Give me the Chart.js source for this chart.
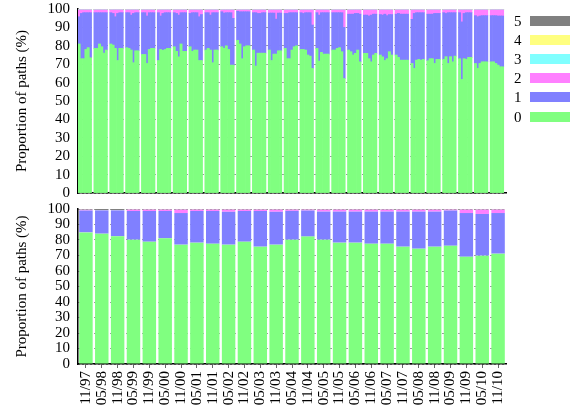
<!DOCTYPE html>
<html>
<head>
<meta charset="utf-8">
<script src="https://cdn.jsdelivr.net/npm/chart.js@4.4.1/dist/chart.umd.min.js"></script>
<style>
    body { margin: 0; background: #fff; }
    #wrap { position: relative; width: 580px; height: 414px; font-family: "Liberation Serif", "Times New Roman", serif; }
    #topBox { position: absolute; left: 0; top: 0; width: 580px; height: 200px; }
    #bottomBox { position: absolute; left: 0; top: 200px; width: 580px; height: 214px; }
    .key { position: absolute; left: 514px; width: 62px; height: 19px; }
    .key span { position: absolute; left: 0; top: 0; font-size: 15px; line-height: 19px; color: #000; }
    .key i { position: absolute; left: 16px; top: 4px; width: 40px; height: 10px; }
</style>
</head>
<body>
<div id="wrap">
    <div id="topBox"><canvas id="topChart"></canvas></div>
    <div id="bottomBox"><canvas id="bottomChart"></canvas></div>
    <div id="legendBox"></div>
</div>
<script>
// half-year periods (x tick labels of the lower panel)
const periods = ['11/97', '05/98', '11/98', '05/99', '11/99', '05/00', '11/00', '05/01', '11/01',
    '05/02', '11/02', '05/03', '11/03', '05/04', '11/04', '05/05', '11/05', '05/06', '11/06',
    '05/07', '11/07', '05/08', '11/08', '05/09', '11/09', '05/10', '11/10'];
const keys = ['0', '1', '2', '3', '4', '5'];
const keyColors = ['#80ff80', '#8080ff', '#ff80ff', '#80ffff', '#ffff80', '#808080'];
const yTicks = [0, 10, 20, 30, 40, 50, 60, 70, 80, 90, 100];
const MONTHS_PER_PERIOD = 6;

// upper panel: monthly shares (%), six months per period
const topZero = [
    81, 73, 73, 78, 79, 73.5,
    78.6, 78.6, 81, 79.5, 76, 77.7,
    81, 80.4, 78.6, 72, 78.6, 78.6,
    79, 78.6, 77.7, 70.8, 77.3, 77.3,
    75.3, 75.3, 70.4, 78, 78.6, 78.6,
    72, 78, 77.5, 78, 78.6, 78.6,
    79.5, 77, 74, 81, 77, 77,
    79.5, 77, 77.7, 77.7, 72, 72,
    77.7, 78.6, 77.7, 70.8, 77.7, 77.7,
    79.5, 78.6, 80, 78, 69.5, 69.5,
    83, 81, 73, 79.5, 80, 80,
    77.7, 69, 76, 76, 76, 76,
    77.7, 72, 75.5, 75.5, 77.3, 77.3,
    78.6, 73, 73, 77.7, 79.5, 80,
    78, 78, 77.7, 75, 74.4, 67.7,
    78.6, 71.7, 76.4, 75.5, 75.5, 75.5,
    77.7, 77.7, 78.6, 79, 76.8, 62.2,
    77.7, 76.8, 75, 75.9, 77.7, 71.3,
    75.9, 75.9, 73, 71.3, 75, 75.9,
    75, 74, 72, 73, 76.8, 75,
    75, 73.7, 72.2, 72.2, 72.2, 72.2,
    70.4, 67.7, 72.2, 72.6, 72.2, 72.6,
    71.9, 73, 73, 70.4, 72.6, 72.6,
    72.6, 74.1, 70.4, 74.1, 71.3, 74.4,
    73, 61.7, 73, 72.6, 73.7, 73.7,
    70.4, 67.7, 70.4, 71.3, 71.3, 71.3,
    71.3, 71.3, 70.4, 69.5, 68.6, 68.6
];
const topOne = [
    14.8, 24.6, 25, 20, 19, 24.5,
    19.4, 19.4, 17, 18.5, 22, 20.3,
    17, 17.2, 17.2, 25.6, 19.4, 19.4,
    19, 19.4, 19, 26.8, 20.7, 20.7,
    22.7, 22.7, 25.8, 20, 19.4, 19.4,
    26, 18.2, 20.1, 20, 19.4, 19.4,
    18.5, 20.6, 22.7, 17, 21, 21,
    18.1, 21, 20.3, 20.3, 23.8, 25,
    20.3, 19.4, 19, 27.2, 20.3, 20.3,
    19, 19.2, 18, 20, 28.5, 25.4,
    15.8, 17.5, 25.5, 19, 18.5, 18.5,
    20.3, 29, 21.6, 21.6, 22, 22,
    20.1, 25.8, 22.3, 19, 20.5, 20.5,
    19, 24.6, 25, 20.3, 18.5, 18,
    20, 19.6, 20.3, 23, 23.6, 23.6,
    19.4, 25, 21.6, 22.5, 22.5, 22.5,
    20.3, 20.3, 19.4, 19, 21.2, 27.8,
    19.5, 20.4, 22.2, 21.7, 19.9, 25.9,
    20.8, 20.8, 23.2, 25.4, 22.2, 21.3,
    22, 22.7, 25.2, 23.4, 20.2, 22,
    22.2, 23.9, 25, 25, 25, 25,
    24, 29.9, 25.8, 25.4, 25.8, 25.4,
    25.3, 24.2, 24.2, 27.2, 25, 25,
    25.4, 23.5, 27.6, 23.9, 26.7, 23.6,
    25, 31.3, 24.6, 25.4, 24.3, 24.3,
    26, 28.1, 25.8, 25.1, 25.1, 25.1,
    25.1, 25.1, 26, 26.7, 27.6, 27.6
];
const topTwo = [
    3.7, 1.9, 1.5, 1.5, 1.5, 1.5,
    1.5, 1.5, 1.5, 1.5, 1.5, 1.5,
    1.5, 1.9, 3.7, 1.9, 1.5, 1.5,
    1.5, 1.5, 2.8, 1.9, 1.5, 1.5,
    1.5, 1.5, 3.3, 1.5, 1.5, 1.5,
    1.5, 3.3, 1.9, 1.5, 1.5, 1.5,
    1.5, 1.9, 2.8, 1.5, 1.5, 1.5,
    1.9, 1.5, 1.5, 1.5, 3.7, 2.5,
    1.5, 1.5, 2.8, 1.5, 1.5, 1.5,
    1, 1.7, 1.5, 1.5, 1.5, 4.6,
    0.7, 1, 1, 1, 1, 1,
    1.5, 1.5, 1.9, 1.9, 1.5, 1.5,
    1.7, 1.7, 1.7, 5, 1.7, 1.7,
    1.9, 1.9, 1.5, 1.5, 1.5, 1.5,
    1.5, 1.9, 1.5, 1.5, 1.5, 8.2,
    1.5, 2.8, 1.5, 1.5, 1.5, 1.5,
    1.5, 1.5, 1.5, 1.5, 1.5, 9.5,
    2.3, 2.3, 2.3, 1.9, 1.9, 2.3,
    2.8, 2.8, 3.3, 2.8, 2.3, 2.3,
    2.5, 2.8, 2.3, 3.1, 2.5, 2.5,
    2.3, 1.9, 2.3, 2.3, 2.3, 2.3,
    5.1, 1.9, 1.5, 1.5, 1.5, 1.5,
    2.3, 2.3, 2.3, 1.9, 1.9, 1.9,
    1.5, 1.9, 1.5, 1.5, 1.5, 1.5,
    1.5, 6.5, 1.9, 1.5, 1.5, 1.5,
    3.1, 3.7, 3.3, 3.1, 3.1, 3.1,
    3.1, 3.1, 3.1, 3.3, 3.3, 3.3
];
// 3, 4 and 5 are only a hairline at the top of every month
const topThree = [
    0.1, 0.1, 0.1, 0.1, 0.1, 0.1,  0.1, 0.1, 0.1, 0.1, 0.1, 0.1,  0.1, 0.1, 0.1, 0.1, 0.1, 0.1,
    0.1, 0.1, 0.1, 0.1, 0.1, 0.1,  0.1, 0.1, 0.1, 0.1, 0.1, 0.1,  0.1, 0.1, 0.1, 0.1, 0.1, 0.1,
    0.1, 0.1, 0.1, 0.1, 0.1, 0.1,  0.1, 0.1, 0.1, 0.1, 0.1, 0.1,  0.1, 0.1, 0.1, 0.1, 0.1, 0.1,
    0.1, 0.1, 0.1, 0.1, 0.1, 0.1,  0.1, 0.1, 0.1, 0.1, 0.1, 0.1,  0.1, 0.1, 0.1, 0.1, 0.1, 0.1,
    0.1, 0.1, 0.1, 0.1, 0.1, 0.1,  0.1, 0.1, 0.1, 0.1, 0.1, 0.1,  0.1, 0.1, 0.1, 0.1, 0.1, 0.1,
    0.1, 0.1, 0.1, 0.1, 0.1, 0.1,  0.1, 0.1, 0.1, 0.1, 0.1, 0.1,  0.1, 0.1, 0.1, 0.1, 0.1, 0.1,
    0.1, 0.1, 0.1, 0.1, 0.1, 0.1,  0.1, 0.1, 0.1, 0.1, 0.1, 0.1,  0.1, 0.1, 0.1, 0.1, 0.1, 0.1,
    0.1, 0.1, 0.1, 0.1, 0.1, 0.1,  0.1, 0.1, 0.1, 0.1, 0.1, 0.1,  0.1, 0.1, 0.1, 0.1, 0.1, 0.1,
    0.1, 0.1, 0.1, 0.1, 0.1, 0.1,  0.1, 0.1, 0.1, 0.1, 0.1, 0.1,  0.1, 0.1, 0.1, 0.1, 0.1, 0.1
];
const topFour = topThree;
const topFive = [
    0.3, 0.3, 0.3, 0.3, 0.3, 0.3,  0.3, 0.3, 0.3, 0.3, 0.3, 0.3,  0.3, 0.3, 0.3, 0.3, 0.3, 0.3,
    0.3, 0.3, 0.3, 0.3, 0.3, 0.3,  0.3, 0.3, 0.3, 0.3, 0.3, 0.3,  0.3, 0.3, 0.3, 0.3, 0.3, 0.3,
    0.3, 0.3, 0.3, 0.3, 0.3, 0.3,  0.3, 0.3, 0.3, 0.3, 0.3, 0.3,  0.3, 0.3, 0.3, 0.3, 0.3, 0.3,
    0.3, 0.3, 0.3, 0.3, 0.3, 0.3,  0.3, 0.3, 0.3, 0.3, 0.3, 0.3,  0.3, 0.3, 0.3, 0.3, 0.3, 0.3,
    0.3, 0.3, 0.3, 0.3, 0.3, 0.3,  0.3, 0.3, 0.3, 0.3, 0.3, 0.3,  0.3, 0.3, 0.3, 0.3, 0.3, 0.3,
    0.3, 0.3, 0.3, 0.3, 0.3, 0.3,  0.3, 0.3, 0.3, 0.3, 0.3, 0.3,  0.3, 0.3, 0.3, 0.3, 0.3, 0.3,
    0.3, 0.3, 0.3, 0.3, 0.3, 0.3,  0.3, 0.3, 0.3, 0.3, 0.3, 0.3,  0.3, 0.3, 0.3, 0.3, 0.3, 0.3,
    0.3, 0.3, 0.3, 0.3, 0.3, 0.3,  0.3, 0.3, 0.3, 0.3, 0.3, 0.3,  0.3, 0.3, 0.3, 0.3, 0.3, 0.3,
    0.3, 0.3, 0.3, 0.3, 0.3, 0.3,  0.3, 0.3, 0.3, 0.3, 0.3, 0.3,  0.3, 0.3, 0.3, 0.3, 0.3, 0.3
];

// lower panel: one bar per period (%)
const bottomZero = [84.9, 84.1, 82.4, 80.2, 78.9, 81.1, 77.0, 78.3, 77.6, 77.0, 78.9, 75.7, 77.0, 80.2,
    82.2, 80.2, 78.3, 78.3, 77.6, 77.6, 75.7, 74.4, 75.7, 76.3, 69.2, 69.9, 71.2];
const bottomOne = [14.1, 15.0, 16.7, 18.5, 19.8, 17.6, 20.4, 20.4, 21.1, 21.2, 19.8, 23.0, 21.2, 18.6,
    16.8, 18.1, 20.0, 20.0, 20.7, 20.7, 22.6, 23.9, 22.6, 22.7, 28.2, 26.9, 26.2];
const bottomTwo = [0.5, 0.1, 0.1, 0.9, 0.9, 0.9, 2.2, 0.9, 0.9, 1.4, 0.9, 0.9, 1.4, 0.8,
    0.6, 1.3, 1.3, 1.3, 1.3, 1.3, 1.3, 1.3, 1.3, 0.6, 2.2, 2.8, 2.2];
const bottomThree = [0.05, 0.05, 0.05, 0.05, 0.05, 0.05, 0.05, 0.05, 0.05, 0.05, 0.05, 0.05, 0.05, 0.05,
    0.05, 0.05, 0.05, 0.05, 0.05, 0.05, 0.05, 0.05, 0.05, 0.05, 0.05, 0.05, 0.05];
const bottomFour = [0.05, 0.05, 0.05, 0.05, 0.05, 0.05, 0.05, 0.05, 0.05, 0.05, 0.05, 0.05, 0.05, 0.05,
    0.05, 0.05, 0.05, 0.05, 0.05, 0.05, 0.05, 0.05, 0.05, 0.05, 0.05, 0.05, 0.05];
const bottomFive = [0.4, 0.7, 0.7, 0.3, 0.3, 0.3, 0.3, 0.3, 0.3, 0.3, 0.3, 0.3, 0.3, 0.3,
    0.3, 0.3, 0.3, 0.3, 0.3, 0.3, 0.3, 0.3, 0.3, 0.3, 0.3, 0.3, 0.3];

const FONT = { family: '"Liberation Serif", "Times New Roman", serif', size: 15 };

// insert one empty slot after each six-month block -> white gap between periods
function withGaps(values) {
    const out = [];
    values.forEach((v, i) => {
        out.push(v);
        if ((i + 1) % MONTHS_PER_PERIOD === 0) out.push(null);
    });
    return out;
}

function makeDatasets(seriesList, spread) {
    return seriesList.map((values, i) => ({
        label: keys[i],
        data: spread ? withGaps(values) : values,
        backgroundColor: keyColors[i],
        borderWidth: 0,
        barPercentage: 1,
        categoryPercentage: spread ? 1 : 0.85,
    }));
}

function makeOptions(isBottom) {
    return {
        responsive: true,
        maintainAspectRatio: false,
        animation: false,
        layout: { padding: { top: 9, right: 74, left: 0, bottom: 0 } },
        plugins: {
            legend: { display: false },
            tooltip: { enabled: false },
        },
        scales: {
            x: {
                stacked: true,
                afterFit: (scale) => {
                    scale.height = isBottom ? 50 : 7;
                    scale.paddingLeft = 0;
                    scale.paddingRight = 0;
                },
                grid: {
                    display: isBottom,
                    drawOnChartArea: false,
                    offset: false,
                    tickLength: 4,
                    color: '#666',
                },
                border: { display: true, color: '#000', width: 1.5 },
                ticks: {
                    display: isBottom,
                    autoSkip: false,
                    maxRotation: 90,
                    minRotation: 90,
                    padding: 3,
                    color: '#000',
                    font: FONT,
                },
            },
            y: {
                stacked: true,
                min: 0,
                max: 100,
                afterFit: (scale) => {
                    scale.width = 78;
                    // let labels overhang the plot instead of shrinking it
                    scale.paddingTop = 0;
                    scale.paddingBottom = 0;
                },
                afterBuildTicks: (scale) => { scale.ticks = yTicks.map((v) => ({ value: v })); },
                grid: { color: '#000', lineWidth: 0.8, drawTicks: false },
                border: { display: true, color: '#000', width: 1.5, dash: [1, 3] },
                ticks: { autoSkip: false, padding: 8, color: '#000', font: FONT },
                title: {
                    display: true,
                    text: 'Proportion of paths (%)',
                    color: '#000',
                    font: FONT,
                    padding: { top: 13, bottom: 0 },
                },
            },
        },
    };
}

// top: months, grouped by period
const topLabels = [];
periods.forEach((p) => {
    for (let m = 0; m < MONTHS_PER_PERIOD; m++) topLabels.push(p);
    topLabels.push('');
});

new Chart(document.getElementById('topChart').getContext('2d'), {
    type: 'bar',
    data: {
        labels: topLabels,
        datasets: makeDatasets([topZero, topOne, topTwo, topThree, topFour, topFive], true),
    },
    options: makeOptions(false),
});

new Chart(document.getElementById('bottomChart').getContext('2d'), {
    type: 'bar',
    data: {
        labels: periods,
        datasets: makeDatasets([bottomZero, bottomOne, bottomTwo, bottomThree, bottomFour, bottomFive], false),
    },
    options: makeOptions(true),
});

// key on the right, 5 on top down to 0
const legendBox = document.getElementById('legendBox');
keys.slice().reverse().forEach((k, i) => {
    const idx = keys.length - 1 - i;
    const row = document.createElement('div');
    row.className = 'key';
    row.style.top = (11.5 + i * 19.2) + 'px';
    row.innerHTML = `<span>${k}</span><i style="background:${keyColors[idx]}"></i>`;
    legendBox.appendChild(row);
});
</script>
</body>
</html>
